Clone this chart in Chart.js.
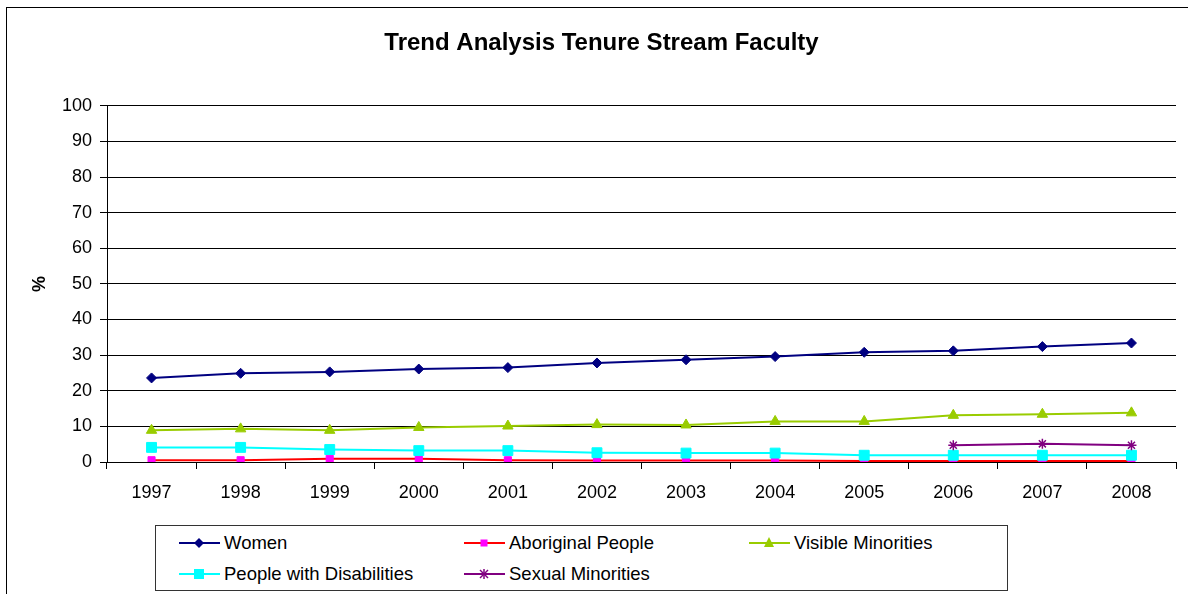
<!DOCTYPE html>
<html>
<head>
<meta charset="utf-8">
<script src="https://cdn.jsdelivr.net/npm/chart.js@4"></script>
<style>
  body { margin: 0; background: #fff; font-family: Arial, "Liberation Sans", sans-serif; }
  #wrap { position: relative; width: 1188px; height: 594px; overflow: hidden; }
  #frame { position: absolute; left: 6px; top: 7px; width: 1200px; height: 620px; border: 1px solid #000; box-sizing: border-box; }
  #canvas { position: absolute; left: 0; top: 0; }
  #legend { position: absolute; left: 155px; top: 525px; width: 853px; height: 66px; border: 1px solid #333; box-sizing: border-box; background: #fff; }
  .item { position: absolute; height: 20px; display: flex; align-items: center; font-size: 18.5px; color: #000; white-space: nowrap; }
  .item svg { margin-right: 4px; }
</style>
</head>
<body>
<div id="wrap">
  <div id="frame"></div>
  <canvas id="canvas" width="1188" height="594"></canvas>
  <div id="legend"></div>
</div>
<script>
const YEARS = ["1997", "1998", "1999", "2000", "2001", "2002", "2003", "2004", "2005", "2006", "2007", "2008"];
const WOMEN = [23.6, 24.9, 25.3, 26.1, 26.5, 27.8, 28.7, 29.6, 30.8, 31.2, 32.4, 33.4];
const ABORIGINAL = [0.5, 0.5, 0.9, 0.9, 0.5, 0.4, 0.4, 0.4, 0.3, 0.3, 0.3, 0.3];
const VISIBLE = [8.9, 9.3, 8.9, 9.7, 10.1, 10.5, 10.4, 11.4, 11.4, 13.1, 13.4, 13.8];
const DISABILITIES = [4.1, 4.1, 3.5, 3.2, 3.2, 2.6, 2.5, 2.5, 1.9, 1.9, 1.9, 1.9];
const SEXUAL = [null, null, null, null, null, null, null, null, null, 4.7, 5.1, 4.7];

const FONT = "Arial, 'Liberation Sans', sans-serif";

const series = [
  { label: "Women", data: WOMEN, line: "#000080", mark: "#000080", style: "rectRot", r: 5 },
  { label: "Aboriginal People", data: ABORIGINAL, line: "#ff0000", mark: "#ff00ff", style: "rect", r: 5 },
  { label: "Visible Minorities", data: VISIBLE, line: "#99cc00", mark: "#99cc00", style: "triangle", r: 6 },
  { label: "People with Disabilities", data: DISABILITIES, line: "#00ffff", mark: "#00ffff", style: "rect", r: 7 },
  { label: "Sexual Minorities", data: SEXUAL, line: "#800080", mark: "#800080", style: "star", r: 5 },
];

const ctx = document.getElementById("canvas");

new Chart(ctx, {
  type: "line",
  data: {
    labels: YEARS,
    datasets: series.map((s, i) => ({
      label: s.label,
      data: s.data,
      borderColor: s.line,
      borderWidth: 2,
      backgroundColor: s.mark,
      pointBackgroundColor: s.mark,
      pointBorderColor: s.mark,
      pointBorderWidth: s.style === "star" ? 1.5 : 1,
      pointStyle: s.style,
      pointRadius: s.r,
      tension: 0,
      spanGaps: false,
      order: series.length - i,
    })),
  },
  options: {
    responsive: false,
    animation: false,
    layout: { padding: { left: 27, right: 12, top: 0, bottom: 92 } },
    plugins: {
      legend: { display: false },
      tooltip: { enabled: false },
      title: {
        display: true,
        text: "Trend Analysis Tenure Stream Faculty",
        color: "#000",
        font: { family: FONT, size: 24, weight: "bold", lineHeight: 1.2 },
        padding: { top: 29, bottom: 48 },
      },
    },
    scales: {
      x: {
        offset: true,
        grid: {
          offset: true,
          drawOnChartArea: true,
          color: (c) => (c.index === YEARS.length ? "#888" : "rgba(0,0,0,0)"),
          tickColor: "#000",
          tickLength: 7,
        },
        border: { display: true, color: "#000", width: 1 },
        ticks: {
          color: "#000",
          font: { family: FONT, size: 18 },
          padding: 13,
          maxRotation: 0,
        },
        afterFit: (s) => { s.height = 40; },
      },
      y: {
        min: 0,
        max: 100,
        ticks: {
          stepSize: 10,
          color: "#000",
          font: { family: FONT, size: 18 },
          padding: 8,
        },
        grid: { color: "#000", tickColor: "#000", tickLength: 7, lineWidth: 1 },
        border: { display: true, color: "#000", width: 1 },
        title: {
          display: true,
          text: "%",
          color: "#000",
          font: { family: FONT, size: 18, weight: "bold" },
          padding: { top: 2, bottom: 0 },
        },
        afterFit: (s) => { s.width = 80; },
      },
    },
  },
});

// legend laid out like the spreadsheet one: three columns, two rows
const LEGEND_COLS = [23, 308, 593];
const LEGEND_ROWS = [7, 38];
const legend = document.getElementById("legend");

const markerSvg = (s) => {
  let shape = "";
  const c = s.mark;
  if (s.style === "rectRot") shape = `<polygon points="20,5 25,10 20,15 15,10" fill="${c}"/>`;
  else if (s.style === "triangle") shape = `<polygon points="20,4 25,14 15,14" fill="${c}"/>`;
  else if (s.style === "rect" && s.r > 5) shape = `<rect x="15" y="5" width="10" height="10" fill="${c}"/>`;
  else if (s.style === "rect") shape = `<rect x="16.5" y="6.5" width="7" height="7" fill="${c}"/>`;
  else if (s.style === "star")
    shape = `<g stroke="${c}" stroke-width="1.5"><line x1="20" y1="5" x2="20" y2="15"/><line x1="16" y1="6" x2="24" y2="14"/><line x1="24" y1="6" x2="16" y2="14"/></g>`;
  return `<svg width="41" height="20" viewBox="0 0 41 20"><line x1="0" y1="10" x2="41" y2="10" stroke="${s.line}" stroke-width="2"/>${shape}</svg>`;
};

series.forEach((s, i) => {
  const el = document.createElement("div");
  el.className = "item";
  el.style.left = LEGEND_COLS[i % 3] + "px";
  el.style.top = LEGEND_ROWS[Math.floor(i / 3)] + "px";
  el.innerHTML = markerSvg(s) + "<span>" + s.label + "</span>";
  legend.appendChild(el);
});
</script>
</body>
</html>
